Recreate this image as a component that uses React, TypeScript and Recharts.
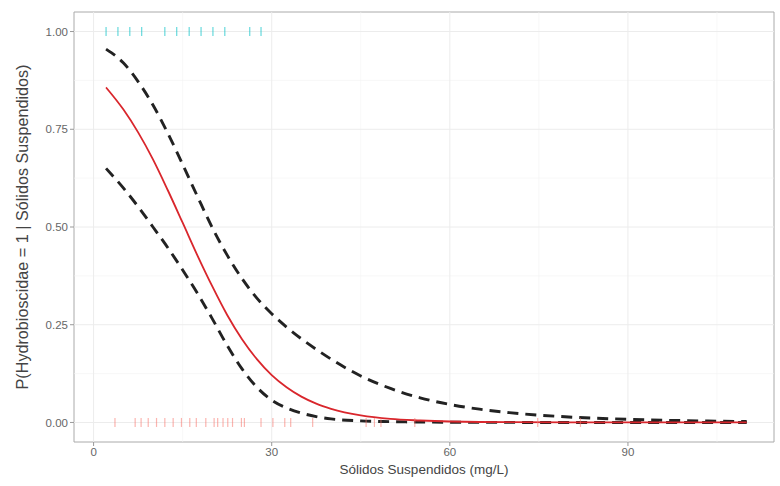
import {
  ComposedChart,
  Line,
  Scatter,
  XAxis,
  YAxis,
  ReferenceLine,
  ReferenceArea,
} from "recharts"

// Sólidos suspendidos (mg/L) where the curves are read
const sst = [2.1, 5, 7.5, 10, 12.5, 15, 17.5, 20, 22.5, 25, 27.5, 30, 32.5, 35, 37.5, 40, 45, 50, 55, 60, 65, 70, 80, 90, 100, 110]

// fitted probability (red) and confidence bounds (dashed)
const fitted = [0.857, 0.801, 0.742, 0.673, 0.594, 0.511, 0.427, 0.348, 0.275, 0.213, 0.162, 0.121, 0.09, 0.066, 0.048, 0.035, 0.018, 0.009, 0.005, 0.0024, 0.0012, 0.0006, 0.0002, 0.0001, 0, 0]
const upper = [0.955, 0.92, 0.872, 0.812, 0.74, 0.66, 0.578, 0.498, 0.428, 0.368, 0.318, 0.278, 0.244, 0.214, 0.187, 0.162, 0.119, 0.087, 0.063, 0.046, 0.034, 0.025, 0.014, 0.008, 0.0045, 0.0025]
const lower = [0.65, 0.6, 0.552, 0.5, 0.447, 0.39, 0.33, 0.265, 0.197, 0.137, 0.09, 0.057, 0.037, 0.024, 0.015, 0.009, 0.004, 0.002, 0.001, 0.0005, 0.0002, 0.0001, 0, 0, 0, 0]

// observations: presence (1) and absence (0)
const presentes = [2.1, 4.1, 6.1, 8.1, 12.0, 14.0, 16.1, 18.1, 20.1, 22.1, 26.3, 28.2]
const ausentes = [3.6, 7.0, 8.0, 9.2, 10.6, 12.0, 13.4, 14.8, 16.2, 17.3, 18.9, 20.3, 20.9, 21.8, 22.6, 23.4, 24.9, 25.4, 28.2, 30.2, 32.2, 33.2, 36.9, 45.9, 47.3, 48.4, 54.1, 74.8, 82.0]

const xTicks = [0, 30, 60, 90]
const yTicks = [0, 0.25, 0.5, 0.75, 1]
const xMinor = [15, 45, 75, 105]
const yMinor = [0.125, 0.375, 0.625, 0.875]

const curveRows = sst.map((x, i) => ({ x, fit: fitted[i], hi: upper[i], lo: lower[i] }))
const presRows = presentes.map((x) => ({ x, y: 1 }))
const ausRows = ausentes.map((x) => ({ x, y: 0 }))

const FONT = "'Liberation Sans', Arial, sans-serif"

function rugMark(color: string) {
  return (props: any) => {
    const { cx, cy } = props
    return <line x1={cx} x2={cx} y1={cy - 4.5} y2={cy + 4.5} stroke={color} strokeWidth={1.2} />
  }
}

export default function App() {
  return (
    <div style={{ position: "absolute", left: 0, top: 0, background: "#fff" }}>
      <ComposedChart width={780} height={486} margin={{ top: 12, right: 6, bottom: 0, left: 0 }}>
        {xMinor.map((v) => (
          <ReferenceLine key={`xm${v}`} x={v} stroke="#f4f4f4" strokeWidth={0.6} />
        ))}
        {yMinor.map((v) => (
          <ReferenceLine key={`ym${v}`} y={v} stroke="#f4f4f4" strokeWidth={0.6} />
        ))}
        {xTicks.map((v) => (
          <ReferenceLine key={`x${v}`} x={v} stroke="#ececec" strokeWidth={1} />
        ))}
        {yTicks.map((v) => (
          <ReferenceLine key={`y${v}`} y={v} stroke="#ececec" strokeWidth={1} />
        ))}
        <XAxis
          type="number"
          dataKey="x"
          domain={[-3.3, 114.6]}
          ticks={xTicks}
          allowDataOverflow
          height={44}
          axisLine={false}
          tickLine={{ stroke: "#999" }}
          tickSize={4}
          tick={{ fill: "#666", fontSize: 11.5, fontFamily: FONT }}
          label={{
            content: (p: any) => {
              const vb = p.viewBox
              return (
                <text x={vb.x + vb.width / 2} y={474} textAnchor="middle" fill="#444" fontSize={13.5} fontFamily={FONT}>
                  Sólidos Suspendidos (mg/L)
                </text>
              )
            },
          }}
        />
        <YAxis
          type="number"
          domain={[-0.05, 1.05]}
          ticks={yTicks}
          allowDataOverflow
          width={74}
          axisLine={false}
          tickLine={{ stroke: "#999" }}
          tickSize={4}
          tickFormatter={(v: number) => v.toFixed(2)}
          tick={{ fill: "#666", fontSize: 11.5, fontFamily: FONT }}
          label={{
            content: (p: any) => {
              const vb = p.viewBox
              const cy = vb.y + vb.height / 2
              return (
                <text x={28} y={cy} transform={`rotate(-90 28 ${cy})`} textAnchor="middle" fill="#444" fontSize={16.2} fontFamily={FONT}>
                  P(Hydrobioscidae = 1 | Sólidos Suspendidos)
                </text>
              )
            },
          }}
        />
        <ReferenceArea x1={-3.3} x2={114.6} y1={-0.05} y2={1.05} fill="none" stroke="#aaa" strokeWidth={1} ifOverflow="visible" />
        <Scatter data={presRows} dataKey="y" shape={rugMark("rgba(0,191,196,0.6)")} isAnimationActive={false} />
        <Scatter data={ausRows} dataKey="y" shape={rugMark("rgba(248,118,109,0.55)")} isAnimationActive={false} />
        <Line data={curveRows} dataKey="hi" type="monotone" stroke="#222" strokeWidth={2.9} strokeDasharray="11 7" dot={false} isAnimationActive={false} />
        <Line data={curveRows} dataKey="lo" type="monotone" stroke="#222" strokeWidth={2.9} strokeDasharray="11 7" dot={false} isAnimationActive={false} />
        <Line data={curveRows} dataKey="fit" type="monotone" stroke="#d9262c" strokeWidth={1.8} dot={false} isAnimationActive={false} />
      </ComposedChart>
    </div>
  )
}
